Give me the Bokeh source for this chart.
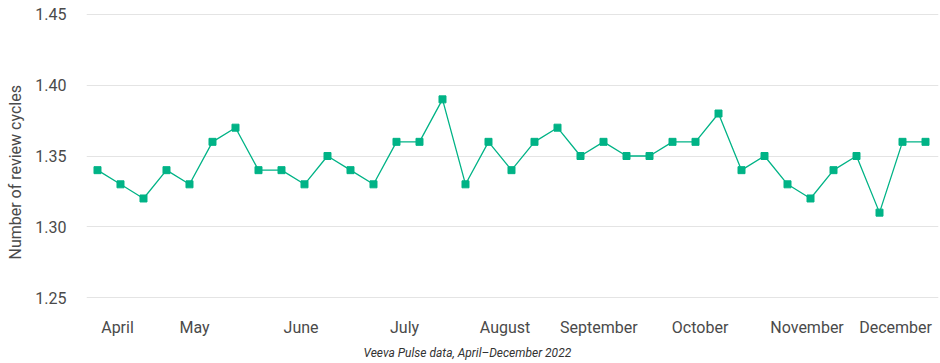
from bokeh.plotting import figure
from bokeh.models import FixedTicker, Range1d, ColumnDataSource, Title, NumeralTickFormatter
from bokeh.embed import file_html
from bokeh.resources import INLINE

# --- data ---
week_index = list(range(37))
review_cycles = [1.34, 1.33, 1.32, 1.34, 1.33, 1.36, 1.37, 1.34, 1.34, 1.33,
                 1.35, 1.34, 1.33, 1.36, 1.36, 1.39, 1.33, 1.36, 1.34, 1.36,
                 1.37, 1.35, 1.36, 1.35, 1.35, 1.36, 1.36, 1.38, 1.34, 1.35,
                 1.33, 1.32, 1.34, 1.35, 1.31, 1.36, 1.36]
month_labels = ["April", "May", "June", "July", "August", "September",
                "October", "November", "December"]
month_tick_weeks = [0.87, 4.22, 8.85, 13.35, 17.72, 21.8, 26.2, 30.85, 34.7]
y_ticks = [1.25, 1.30, 1.35, 1.40, 1.45]
y_title = "Number of review cycles"
caption = "Veeva Pulse data, April\u2013December 2022"

COLOR = "#00b386"
TEXT = "#4a4a4a"
FONT = "Roboto"

src = ColumnDataSource(dict(x=week_index, y=review_cycles))

p = figure(width=940, height=363, output_backend="svg", toolbar_location=None,
           x_range=Range1d(-0.478, 36.565), y_range=Range1d(1.24722, 1.45278),
           min_border_left=86, min_border_right=2, min_border_top=10,
           min_border_bottom=57)
p.outline_line_color = None
p.background_fill_color = "white"
p.border_fill_color = "white"

p.line("x", "y", source=src, line_color=COLOR, line_width=1.3)
p.scatter("x", "y", source=src, marker="square", size=7, fill_color=COLOR,
          line_color=COLOR)

# x axis
p.xaxis.ticker = FixedTicker(ticks=month_tick_weeks)
p.xaxis.major_label_overrides = {t: m for t, m in zip(month_tick_weeks, month_labels)}
p.xaxis.axis_line_color = None
p.xaxis.major_tick_line_color = None
p.xaxis.minor_tick_line_color = None
p.xaxis.major_label_standoff = 10
p.xaxis.major_label_text_font = FONT
p.xaxis.major_label_text_font_size = "16px"
p.xaxis.major_label_text_color = TEXT
p.xgrid.grid_line_color = None

# y axis
p.yaxis.ticker = FixedTicker(ticks=y_ticks)
p.yaxis.formatter = NumeralTickFormatter(format="0.00")
p.yaxis.axis_line_color = None
p.yaxis.major_tick_line_color = None
p.yaxis.minor_tick_line_color = None
p.yaxis.major_label_standoff = 14
p.yaxis.major_label_text_font = FONT
p.yaxis.major_label_text_font_size = "16px"
p.yaxis.major_label_text_color = TEXT
p.ygrid.grid_line_color = "#e4e4e4"
p.ygrid.grid_line_width = 1

p.add_layout(Title(text=y_title, align="left", offset=42, standoff=11,
                   vertical_align="top",
                   text_font=FONT, text_font_size="16px",
                   text_font_style="normal", text_color=TEXT), "left")
p.add_layout(Title(text=caption, align="left", offset=277, standoff=8,
                   text_font=FONT, text_font_size="12px",
                   text_font_style="italic", text_color="#333333"), "below")

open("out.html", "w").write(file_html(p, INLINE))
